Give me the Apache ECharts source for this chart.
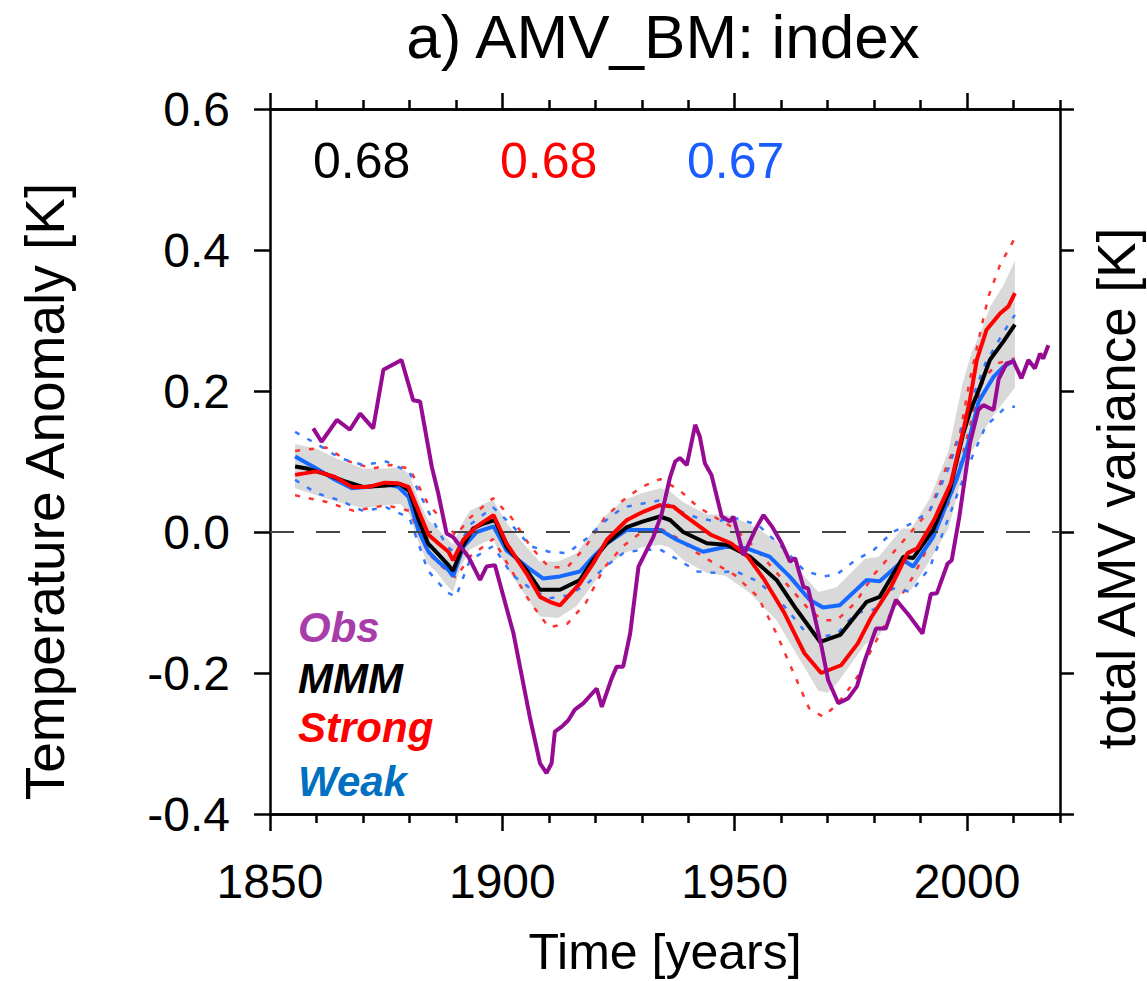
<!DOCTYPE html>
<html>
<head>
<meta charset="utf-8">
<script src="https://cdn.jsdelivr.net/npm/echarts@6/dist/echarts.min.js"></script>
<style>
html,body{margin:0;padding:0;background:#fff;overflow:hidden;}
#chart{width:1147px;height:981px;}
</style>
</head>
<body>
<div id="chart"></div>
<script>
// ---------- data ----------
const titleText = 'a) AMV_BM: index';
const xMajorTicks = [1850, 1900, 1950, 2000];
const xMinorTicks = [1860, 1870, 1880, 1890, 1910, 1920, 1930, 1940, 1960, 1970, 1980, 1990, 2010, 2020];
const corrLabels = ['0.68', '0.68', '0.67'];
const legendLabels = ['Obs', 'MMM', 'Strong', 'Weak'];

const obsData = [[1859.3,0.147],[1861.1,0.128],[1864.4,0.159],[1867.2,0.145],[1869.4,0.168],[1872.2,0.147],[1874.4,0.23],[1878.3,0.244],[1880.8,0.187],[1882.3,0.185],[1884.8,0.093],[1886.2,0.055],[1888,-0.002],[1889.4,-0.007],[1892.7,-0.035],[1895.2,-0.068],[1896.6,-0.049],[1898.4,-0.047],[1902.4,-0.144],[1905.9,-0.262],[1908.1,-0.328],[1909.5,-0.342],[1910.6,-0.328],[1911.3,-0.283],[1912.8,-0.276],[1914.2,-0.267],[1915.6,-0.252],[1917.4,-0.243],[1920.3,-0.222],[1921.4,-0.248],[1923.5,-0.208],[1924.6,-0.191],[1926,-0.191],[1927.5,-0.144],[1929.3,-0.049],[1932.5,-0.007],[1934.3,0.026],[1936.1,0.078],[1937.2,0.1],[1938.2,0.105],[1939.7,0.095],[1941.5,0.152],[1942.5,0.135],[1943.6,0.097],[1945,0.081],[1947.2,0.022],[1949,0.015],[1949.7,0.022],[1951.9,-0.033],[1954.4,0.003],[1956.2,0.024],[1958,0.008],[1960.1,-0.016],[1961.9,-0.042],[1963,-0.037],[1964.8,-0.078],[1965.8,-0.08],[1968.7,-0.163],[1970.1,-0.21],[1972.3,-0.243],[1974.4,-0.236],[1976.3,-0.219],[1978,-0.182],[1980.4,-0.137],[1982.5,-0.137],[1984.7,-0.096],[1987.7,-0.12],[1990.4,-0.144],[1992.2,-0.088],[1993.5,-0.087],[1995.8,-0.045],[1996.7,-0.04],[1998.3,0.02],[2000.6,0.125],[2002.4,0.173],[2003.5,0.18],[2005.7,0.173],[2006.8,0.217],[2008.5,0.239],[2010,0.242],[2011.7,0.218],[2013.2,0.244],[2014.6,0.232],[2015.7,0.253],[2016.4,0.246],[2017.5,0.265]];

const mmmData = [[1855.4,0.093],[1858,0.090],[1862,0.082],[1866,0.072],[1870,0.064],[1875,0.066],[1878,0.068],[1880,0.058],[1882,0.017],[1884,-0.016],[1886,-0.030],[1888,-0.044],[1889.4,-0.055],[1891.5,-0.020],[1893.7,0.005],[1896,0.012],[1898.4,0.017],[1900.9,-0.021],[1905.2,-0.054],[1908.1,-0.082],[1912.4,-0.082],[1916.7,-0.068],[1919.5,-0.040],[1922.5,-0.016],[1926.8,0.007],[1930.3,0.015],[1933.9,0.022],[1936.1,0.017],[1938.9,0.0],[1944,-0.016],[1948.3,-0.018],[1953.3,-0.035],[1959,-0.068],[1963.3,-0.11],[1968.4,-0.156],[1972.7,-0.146],[1978.4,-0.099],[1981.2,-0.092],[1986.3,-0.035],[1988.4,-0.037],[1992.7,0.003],[1996.3,0.06],[1999.2,0.14],[2000.6,0.17],[2002.8,0.206],[2004.9,0.244],[2007.8,0.27],[2010.3,0.294]];

const strongData = [[1855.4,0.081],[1860,0.086],[1864,0.078],[1867.6,0.064],[1871.2,0.064],[1874.7,0.070],[1877.6,0.069],[1879.8,0.064],[1881.9,0.031],[1884.1,-0.004],[1886.2,-0.016],[1888.4,-0.028],[1889.4,-0.040],[1891.6,-0.011],[1894.5,0.008],[1898.1,0.024],[1900.9,-0.016],[1905.2,-0.059],[1908.1,-0.092],[1910.2,-0.099],[1912.4,-0.104],[1916.7,-0.073],[1919.6,-0.044],[1922.5,-0.011],[1926.8,0.017],[1930.4,0.029],[1933.9,0.038],[1936.8,0.036],[1939.1,0.024],[1944.9,-0.004],[1949.2,-0.016],[1952.8,-0.035],[1956.4,-0.068],[1960.7,-0.115],[1965,-0.172],[1968.6,-0.2],[1972.9,-0.189],[1976.5,-0.158],[1979.3,-0.122],[1983.6,-0.078],[1987.2,-0.030],[1989.3,-0.023],[1992.9,0.017],[1996.5,0.069],[1999.4,0.15],[2000.6,0.187],[2002.1,0.244],[2004.2,0.287],[2007.1,0.31],[2008.9,0.32],[2010.3,0.339]];

const weakData = [[1855.4,0.107],[1860,0.090],[1864,0.074],[1867.6,0.062],[1871.2,0.064],[1874.7,0.068],[1877.6,0.064],[1879.8,0.050],[1881.9,0.003],[1884.1,-0.028],[1886.2,-0.042],[1888.4,-0.054],[1889.4,-0.063],[1891.6,-0.021],[1894.5,0.0],[1898.1,0.008],[1900.9,-0.026],[1905.2,-0.049],[1908.8,-0.066],[1912.4,-0.063],[1916.7,-0.056],[1919.6,-0.035],[1922.5,-0.016],[1926.8,0.003],[1930.4,0.003],[1933.9,0.003],[1937.5,-0.011],[1943.2,-0.028],[1948.2,-0.021],[1952.5,-0.023],[1957.5,-0.035],[1961.8,-0.063],[1966.1,-0.096],[1969,-0.107],[1972.6,-0.104],[1978.4,-0.068],[1981.2,-0.070],[1986.3,-0.040],[1988.4,-0.049],[1992.7,-0.007],[1997.7,0.074],[2000,0.12],[2002.5,0.185],[2005.7,0.220],[2007.8,0.234],[2010.3,0.244]];

const bandYears = [1855.4,1860,1865,1870,1875,1878,1880,1882,1884,1886,1888,1889.4,1891,1893,1896,1898,1901,1905,1908,1912,1916,1919,1922,1926,1930,1934,1936,1939,1944,1948,1953,1959,1963,1968,1970,1972,1978,1981,1986,1988,1992,1996,1999,2001,2003,2005,2008,2010.3];
const bandUpper = [0.125,0.118,0.102,0.090,0.090,0.092,0.082,0.045,0.017,0.005,-0.008,-0.018,0.008,0.030,0.040,0.045,0.012,-0.020,-0.042,-0.042,-0.030,-0.003,0.022,0.045,0.055,0.062,0.058,0.042,0.025,0.025,0.012,-0.012,-0.048,-0.085,-0.082,-0.078,-0.038,-0.035,0.005,0.005,0.048,0.115,0.210,0.255,0.285,0.320,0.352,0.385];
const bandLower = [0.062,0.052,0.042,0.034,0.038,0.040,0.025,-0.015,-0.045,-0.058,-0.075,-0.085,-0.050,-0.025,-0.015,-0.010,-0.052,-0.090,-0.120,-0.122,-0.105,-0.078,-0.052,-0.030,-0.022,-0.018,-0.022,-0.040,-0.058,-0.062,-0.085,-0.125,-0.170,-0.225,-0.228,-0.215,-0.160,-0.148,-0.085,-0.082,-0.040,0.005,0.080,0.115,0.135,0.160,0.185,0.205];

const strongHi = [[1855.4,0.115],[1862,0.12],[1867,0.1],[1872,0.09],[1876,0.095],[1880,0.09],[1884,0.04],[1888,0.01],[1890,-0.005],[1893,0.02],[1898,0.048],[1902,0.02],[1906,-0.02],[1910,-0.05],[1914,-0.05],[1918,-0.02],[1922,0.02],[1926,0.045],[1930,0.064],[1934,0.075],[1938,0.06],[1942,0.036],[1946,0.02],[1950,0.005],[1954,-0.02],[1958,-0.05],[1962,-0.08],[1966,-0.11],[1969,-0.125],[1972,-0.125],[1976,-0.1],[1980,-0.06],[1984,-0.03],[1989,0.008],[1992,0.031],[1995.6,0.093],[1998.5,0.14],[2000.6,0.216],[2002.8,0.282],[2004.6,0.334],[2007.1,0.379],[2010.3,0.417]];
const strongLo = [[1855.4,0.052],[1862,0.043],[1868,0.03],[1875,0.038],[1880,0.03],[1884,-0.03],[1888,-0.055],[1890,-0.065],[1893,-0.035],[1898,-0.01],[1902,-0.055],[1906,-0.1],[1910,-0.135],[1914,-0.13],[1918,-0.1],[1922,-0.05],[1926,-0.02],[1930,0.0],[1934,0.005],[1938,-0.01],[1942,-0.03],[1945,-0.042],[1950,-0.061],[1955,-0.092],[1959,-0.144],[1962,-0.19],[1966,-0.25],[1969,-0.262],[1972,-0.245],[1976,-0.21],[1980,-0.16],[1984,-0.11],[1988.4,-0.063],[1992.7,-0.007],[1996.3,0.045],[1998.8,0.102],[2001.3,0.168],[2003.5,0.216],[2006.4,0.239],[2010.3,0.246]];
const weakHi = [[1855.4,0.142],[1860,0.125],[1865,0.105],[1870,0.095],[1875,0.1],[1880,0.085],[1884,0.03],[1888,-0.02],[1890,-0.03],[1893,0.01],[1898,0.035],[1902,0.01],[1906,-0.02],[1910,-0.028],[1914,-0.03],[1918,-0.01],[1922,0.015],[1926,0.035],[1930,0.04],[1934,0.045],[1938,0.03],[1942,0.02],[1946,0.015],[1950,0.02],[1955,0.01],[1960,-0.02],[1965,-0.055],[1969,-0.063],[1972,-0.06],[1976,-0.04],[1980,-0.025],[1984,0.0],[1988,0.012],[1992,0.03],[1996,0.09],[2000,0.17],[2004,0.24],[2008,0.285],[2010.3,0.308]];
const weakLo = [[1855.4,0.074],[1860,0.055],[1865,0.045],[1870,0.03],[1875,0.035],[1880,0.02],[1884,-0.055],[1888,-0.085],[1890,-0.092],[1893,-0.04],[1898,-0.02],[1902,-0.06],[1906,-0.08],[1910,-0.094],[1914,-0.09],[1918,-0.075],[1922,-0.05],[1926,-0.03],[1930,-0.025],[1934,-0.025],[1938,-0.04],[1942,-0.056],[1946,-0.058],[1950,-0.055],[1955,-0.07],[1960,-0.1],[1965,-0.14],[1969,-0.148],[1972,-0.145],[1976,-0.115],[1980,-0.11],[1984,-0.08],[1988,-0.085],[1992,-0.05],[1996,0.02],[2000,0.09],[2004,0.15],[2008,0.175],[2010.3,0.178]];

// ---------- styling ----------
const FONT = 'Liberation Sans, Arial, sans-serif';
const C_OBS = '#960a94', C_OBS_TXT = '#a83ca8';
const C_RED = '#ff0000', C_BLUE = '#1769ff', C_BLUE_TXT = '#0070c0', C_BLUE_NUM = '#1a5cff';
const X_MIN = 1850, X_MAX = 2020, Y_MIN = -0.4, Y_MAX = 0.6;

const chart = echarts.init(document.getElementById('chart'), null, {renderer: 'svg'});

function xAxisDef(position, ticks, len, showLabels) {
  return {
    type: 'value', position: position, min: X_MIN, max: X_MAX, interval: 10,
    axisLine: {show: true, onZero: false, lineStyle: {color: '#000', width: 2.5}},
    axisTick: {show: true, length: len, customValues: ticks, lineStyle: {color: '#000', width: 2.5}},
    axisLabel: showLabels ? {show: true, customValues: ticks, margin: 43, fontSize: 48, color: '#000',
      fontFamily: FONT, formatter: v => String(Math.round(v))} : {show: false},
    splitLine: {show: false}
  };
}

const option = {
  animation: false,
  backgroundColor: '#fff',
  title: {
    text: titleText, left: 658, top: 0, textAlign: 'center',
    textStyle: {fontSize: 62, fontWeight: 'normal', color: '#000', fontFamily: FONT}
  },
  grid: {left: 270, right: 87, top: 109, bottom: 167, containLabel: false, outerBoundsMode: 'none'},
  xAxis: [
    Object.assign(xAxisDef('bottom', xMajorTicks, 17, true), {
      name: 'Time [years]', nameLocation: 'middle', nameGap: 113,
      nameTextStyle: {fontSize: 50, color: '#000', fontFamily: FONT}
    }),
    xAxisDef('bottom', xMinorTicks, 9, false),
    xAxisDef('top', xMajorTicks, 16, false),
    xAxisDef('top', xMinorTicks, 9, false)
  ],
  yAxis: [
    {
      type: 'value', position: 'left', min: Y_MIN, max: Y_MAX, interval: 0.2,
      axisLine: {show: true, onZero: false, lineStyle: {color: '#000', width: 2.5}},
      axisTick: {show: true, length: 16, lineStyle: {color: '#000', width: 2.5}},
      axisLabel: {show: true, margin: 40, fontSize: 48, color: '#000', fontFamily: FONT,
        formatter: v => v.toFixed(1)},
      splitLine: {show: false},
      name: 'Temperature Anomaly [K]', nameLocation: 'middle', nameGap: 198, nameRotate: 90,
      nameTextStyle: {fontSize: 55, color: '#000', fontFamily: FONT, padding: [0, 60, 0, 0]}
    },
    {
      type: 'value', position: 'right', min: Y_MIN, max: Y_MAX, interval: 0.2,
      axisLine: {show: true, onZero: false, lineStyle: {color: '#000', width: 2.5}},
      axisTick: {show: true, length: 14, lineStyle: {color: '#000', width: 2.5}},
      axisLabel: {show: false},
      splitLine: {show: false},
      name: 'total AMV variance [K]', nameLocation: 'middle', nameGap: 30, nameRotate: 90,
      nameTextStyle: {fontSize: 53, color: '#000', fontFamily: FONT, verticalAlign: 'top', padding: [0, 54, 0, 0]}
    }
  ],
  graphic: [
    {type: 'text', left: 313, top: 136, style: {text: corrLabels[0], fill: '#000', font: '50px ' + FONT}},
    {type: 'text', left: 500, top: 136, style: {text: corrLabels[1], fill: C_RED, font: '50px ' + FONT}},
    {type: 'text', left: 687, top: 136, style: {text: corrLabels[2], fill: C_BLUE_NUM, font: '50px ' + FONT}},
    {type: 'text', left: 298, top: 606, style: {text: legendLabels[0], fill: C_OBS_TXT, font: 'italic bold 42px ' + FONT}},
    {type: 'text', left: 298, top: 657, style: {text: legendLabels[1], fill: '#000', font: 'italic bold 42px ' + FONT}},
    {type: 'text', left: 298, top: 706, style: {text: legendLabels[2], fill: C_RED, font: 'italic bold 42px ' + FONT}},
    {type: 'text', left: 298, top: 760, style: {text: legendLabels[3], fill: C_BLUE_TXT, font: 'italic bold 42px ' + FONT}}
  ],
  series: [
    {
      type: 'custom', name: 'band', z: 1, silent: true, clip: true,
      data: bandYears.map((y, i) => [y, bandUpper[i], bandLower[i]]),
      encode: {x: 0, y: [1, 2]},
      renderItem: function (params, api) {
        if (params.dataIndex !== 0) return null;
        const pts = [];
        for (let i = 0; i < bandYears.length; i++) pts.push(api.coord([bandYears[i], bandUpper[i]]));
        for (let i = bandYears.length - 1; i >= 0; i--) pts.push(api.coord([bandYears[i], bandLower[i]]));
        return {type: 'polygon', shape: {points: pts}, style: {fill: '#d9d9d9', stroke: null}};
      }
    },
    {type: 'line', name: 'zero', z: 2, data: [], silent: true,
      markLine: {silent: true, symbol: 'none', label: {show: false},
        lineStyle: {color: '#444', width: 2, type: [24, 22]}, data: [{yAxis: 0}]}},
    {type: 'line', name: 'strongHi', z: 3, data: strongHi, showSymbol: false, silent: true,
      lineStyle: {color: '#ff3030', width: 2.5, type: [5, 9]}},
    {type: 'line', name: 'strongLo', z: 3, data: strongLo, showSymbol: false, silent: true,
      lineStyle: {color: '#ff3030', width: 2.5, type: [5, 9]}},
    {type: 'line', name: 'weakHi', z: 3, data: weakHi, showSymbol: false, silent: true,
      lineStyle: {color: '#3377ff', width: 2.5, type: [5, 9]}},
    {type: 'line', name: 'weakLo', z: 3, data: weakLo, showSymbol: false, silent: true,
      lineStyle: {color: '#3377ff', width: 2.5, type: [5, 9]}},
    {type: 'line', name: 'Weak', z: 4, data: weakData, showSymbol: false, lineStyle: {color: C_BLUE, width: 4}},
    {type: 'line', name: 'MMM', z: 5, data: mmmData, showSymbol: false, lineStyle: {color: '#000', width: 4}},
    {type: 'line', name: 'Strong', z: 6, data: strongData, showSymbol: false, lineStyle: {color: C_RED, width: 4}},
    {type: 'line', name: 'Obs', z: 7, data: obsData, showSymbol: false, lineStyle: {color: C_OBS, width: 4}}
  ]
};
chart.setOption(option);
</script>
</body>
</html>
